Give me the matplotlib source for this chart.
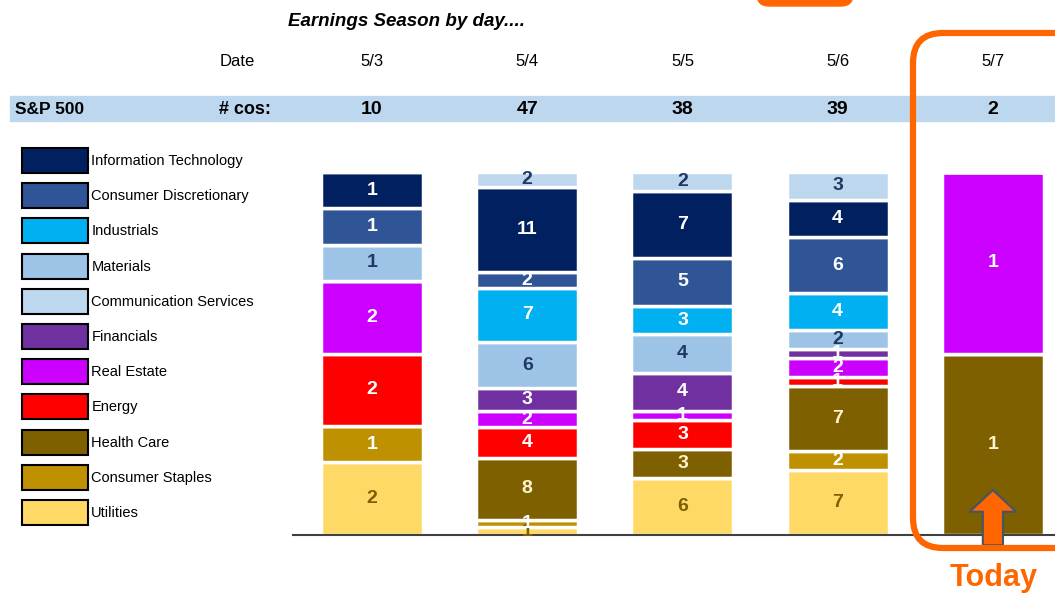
import numpy as np
import matplotlib
matplotlib.use('Agg')
import matplotlib.pyplot as plt
from matplotlib.patches import Patch, Rectangle, FancyBboxPatch, FancyArrow

NARROW = ['Liberation Sans Narrow', 'Liberation Sans', 'DejaVu Sans']
plt.rcParams['font.family'] = NARROW

dates = ['5/3', '5/4', '5/5', '5/6', '5/7']
n_cos = [10, 47, 38, 39, 2]

# stack order, bottom -> top
sectors = ['Utilities', 'Consumer Staples', 'Health Care', 'Energy', 'Real Estate',
           'Financials', 'Materials', 'Industrials', 'Consumer Discretionary',
           'Information Technology', 'Communication Services']
counts = {
    'Utilities':              [2, 1, 6, 7, 0],
    'Consumer Staples':       [1, 1, 0, 2, 0],
    'Health Care':            [0, 8, 3, 7, 1],
    'Energy':                 [2, 4, 3, 1, 0],
    'Real Estate':            [2, 2, 1, 2, 1],
    'Financials':             [0, 3, 4, 1, 0],
    'Materials':              [1, 6, 4, 2, 0],
    'Industrials':            [0, 7, 3, 4, 0],
    'Consumer Discretionary': [1, 2, 5, 6, 0],
    'Information Technology': [1, 11, 7, 4, 0],
    'Communication Services': [0, 2, 2, 3, 0],
}
legend_order = ['Information Technology', 'Consumer Discretionary', 'Industrials',
                'Materials', 'Communication Services', 'Financials', 'Real Estate',
                'Energy', 'Health Care', 'Consumer Staples', 'Utilities']

colors = {
    'Information Technology': '#002060', 'Consumer Discretionary': '#2F5597',
    'Industrials': '#00B0F0', 'Materials': '#9DC3E6',
    'Communication Services': '#BDD7EE', 'Financials': '#7030A0',
    'Real Estate': '#CC00FF', 'Energy': '#FF0000', 'Health Care': '#7F6000',
    'Consumer Staples': '#BF9000', 'Utilities': '#FFD966',
}
label_colors = {
    'Materials': '#1F3864', 'Communication Services': '#1F3864',
    'Utilities': '#7F6000', 'Health Care': '#FFF2CC',
}

W, H = 1055, 594
ORANGE = '#FF6600'


def fx(px):
    return px / W


def fy(py):
    return 1 - py / H


fig = plt.figure(figsize=(W / 100, H / 100), dpi=100)

# header band
fig.patches.append(Rectangle((fx(10), fy(121)), fx(1055) - fx(10), fy(96) - fy(121),
                             transform=fig.transFigure, color='#BDD7EE', zorder=0))

fig.text(fx(407), fy(21), 'Earnings Season by day....', ha='center', va='center',
         fontsize=13.5, fontweight='bold', fontstyle='italic')
fig.text(fx(237), fy(62), 'Date', ha='center', va='center', fontsize=12)
fig.text(fx(15), fy(109), 'S&P 500', ha='left', va='center', fontsize=12.5, fontweight='bold')
fig.text(fx(271), fy(109), '# cos:', ha='right', va='center', fontsize=13, fontweight='bold')

# bars (100% stacked)
ax = fig.add_axes([fx(293), fy(535), fx(1055) - fx(293), fy(172) - fy(535)])
x = np.arange(len(dates))
totals = np.array([sum(counts[s][i] for s in sectors) for i in range(len(dates))])
bottom = np.zeros(len(dates))
for s in sectors:
    v = np.array(counts[s], dtype=float)
    frac = v / totals
    ax.bar(x, frac, bottom=bottom, width=0.657, color=colors[s],
           edgecolor='white', linewidth=2.5, zorder=2)
    for i in range(len(dates)):
        if v[i] > 0:
            ax.text(x[i], bottom[i] + frac[i] / 2, f'{int(v[i])}', ha='center', va='center',
                    fontsize=14, fontweight='bold', color=label_colors.get(s, 'white'),
                    zorder=3)
    bottom += frac

ax.set_xlim(-0.509, 4.4)
ax.set_ylim(0, 1)
for sp in ['top', 'right', 'left']:
    ax.spines[sp].set_visible(False)
ax.spines['bottom'].set_color('#404040')
ax.spines['bottom'].set_linewidth(1.5)
ax.set_xticks([])
ax.set_yticks([])
ax.patch.set_alpha(0)

# column headers aligned with bars
for i, (d, n) in enumerate(zip(dates, n_cos)):
    xf = fig.transFigure.inverted().transform(ax.transData.transform((x[i], 0)))[0]
    fig.text(xf, fy(62), d, ha='center', va='center', fontsize=12)
    fig.text(xf, fy(109), str(n), ha='center', va='center', fontsize=14, fontweight='bold')

# "today" arrow under 5/7
ax.add_patch(FancyArrow(x[-1], -0.028, 0, 0.152, width=0.13, head_width=0.3,
                        head_length=0.06, length_includes_head=True,
                        facecolor=ORANGE, edgecolor='#44546A', lw=1.5,
                        clip_on=False, zorder=5))

# orange highlight boxes
fig.patches.append(FancyBboxPatch((9.13, 0.46), 2.0, 5.15,
                                  boxstyle='round,pad=0,rounding_size=0.3',
                                  transform=fig.dpi_scale_trans, fill=False,
                                  edgecolor=ORANGE, linewidth=4.5, zorder=6))
fig.patches.append(FancyBboxPatch((7.57, 5.88), 0.96, 0.5,
                                  boxstyle='round,pad=0,rounding_size=0.12',
                                  transform=fig.dpi_scale_trans,
                                  facecolor=ORANGE, edgecolor=ORANGE, zorder=6))
fig.text(fx(994), fy(578), 'Today', ha='center', va='center', fontsize=22,
         fontweight='bold', color=ORANGE, family=['Liberation Sans', 'DejaVu Sans'])

# legend
handles = [Patch(facecolor=colors[s], edgecolor='black', linewidth=1.5) for s in legend_order]
fig.legend(handles, legend_order, loc='upper left', bbox_to_anchor=(fx(22), fy(148)),
           frameon=False, fontsize=10.5, handlelength=4.5, handleheight=2.26,
           labelspacing=0.7, handletextpad=0.25, borderpad=0, borderaxespad=0)

fig.savefig('out.png', dpi=100)
